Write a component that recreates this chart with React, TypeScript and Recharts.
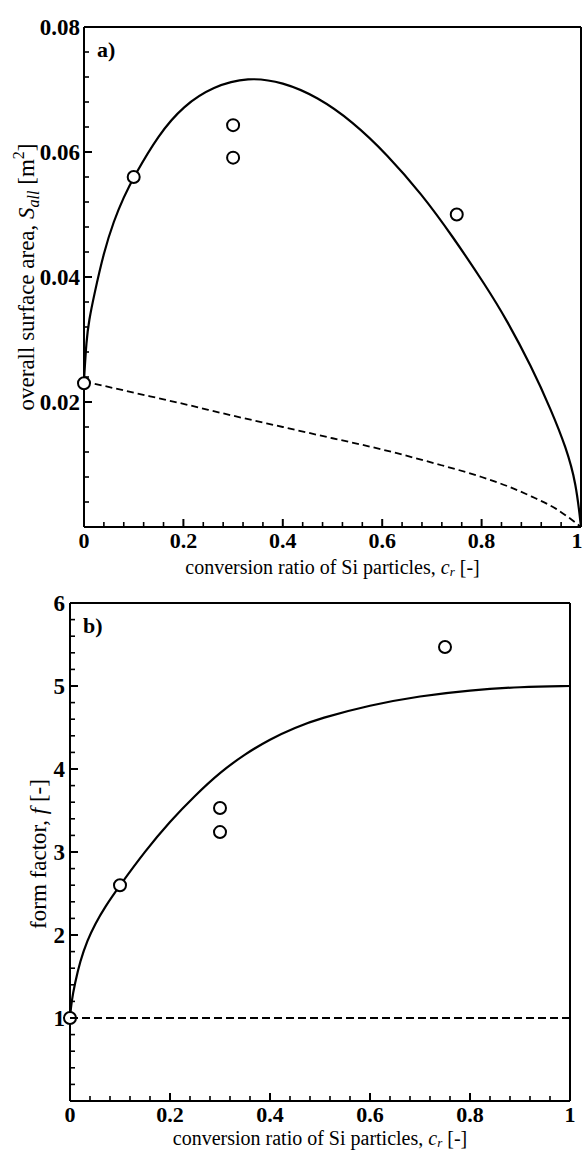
import { ComposedChart, Line, Scatter, XAxis, YAxis, Label } from "recharts";

// panel a) overall surface area
const sAllModelX = [0, 0.005, 0.01, 0.02, 0.04, 0.06, 0.08, 0.1, 0.15, 0.2, 0.26, 0.33, 0.4, 0.47, 0.54, 0.61, 0.68, 0.74, 0.81, 0.85, 0.9, 0.94, 0.97, 0.99, 1];
const sAllModelY = [0.0235, 0.03, 0.033, 0.037, 0.044, 0.049, 0.0528, 0.056, 0.0628, 0.0674, 0.0705, 0.072, 0.0712, 0.0688, 0.0649, 0.0596, 0.0532, 0.0467, 0.0384, 0.0332, 0.0257, 0.0187, 0.0127, 0.0071, 0];
const sAllBaseX = [0, 0.1, 0.2, 0.3, 0.4, 0.5, 0.6, 0.7, 0.8, 0.85, 0.9, 0.95, 1];
const sAllBaseY = [0.0233, 0.0215, 0.0197, 0.0178, 0.016, 0.0142, 0.0124, 0.0103, 0.008, 0.0066, 0.0049, 0.0029, 0];
const sAllExpX = [0, 0.1, 0.3, 0.3, 0.75];
const sAllExpY = [0.023, 0.056, 0.0643, 0.0591, 0.05];

// panel b) form factor
const fModelX = [0, 0.003, 0.01, 0.02, 0.035, 0.05, 0.07, 0.1, 0.15, 0.2, 0.25, 0.3, 0.35, 0.4, 0.45, 0.5, 0.6, 0.7, 0.8, 0.9, 1];
const fModelY = [1, 1.2, 1.42, 1.68, 1.94, 2.13, 2.34, 2.6, 3.01, 3.37, 3.68, 3.96, 4.18, 4.36, 4.5, 4.61, 4.77, 4.88, 4.95, 4.99, 5];
const fBaseX = [0, 1];
const fBaseY = [1, 1];
const fExpX = [0, 0.1, 0.3, 0.3, 0.75];
const fExpY = [1, 2.6, 3.53, 3.24, 5.47];

const xTicks = [0, 0.04, 0.08, 0.12, 0.16, 0.2, 0.24, 0.28, 0.32, 0.36, 0.4, 0.44, 0.48, 0.52, 0.56, 0.6, 0.64, 0.68, 0.72, 0.76, 0.8, 0.84, 0.88, 0.92, 0.96, 1];
const sAllTicks = [0, 0.004, 0.008, 0.012, 0.016, 0.02, 0.024, 0.028, 0.032, 0.036, 0.04, 0.044, 0.048, 0.052, 0.056, 0.06, 0.064, 0.068, 0.072, 0.076, 0.08];
const fTicks = [0, 0.2, 0.4, 0.6, 0.8, 1, 1.2, 1.4, 1.6, 1.8, 2, 2.2, 2.4, 2.6, 2.8, 3, 3.2, 3.4, 3.6, 3.8, 4, 4.2, 4.4, 4.6, 4.8, 5, 5.2, 5.4, 5.6, 5.8, 6];

const zip = (xs: number[], ys: number[]) => xs.map((x, i) => ({ x, y: ys[i] }));

const font = '"Liberation Serif", "Times New Roman", serif';
const near = (v: number) => Math.abs(v - Math.round(v)) < 1e-6;

const isMajorX = (v: number) => near(v * 5);
const fmtX = (v: number) => (v === 0 ? "0" : v === 1 ? "1" : v.toFixed(1));

const tickText = { fontFamily: font, fontWeight: 700, fontSize: 22, fill: "#000" };
const titleText = { fontFamily: font, fontSize: 20, fill: "#000" };
const yTitleText = { fontFamily: font, fontSize: 23, fill: "#000" };

function xTick(side: "bottom" | "top") {
  return (props: any) => {
    const { x, y, payload } = props;
    const v = payload.value as number;
    const major = isMajorX(v);
    const len = major ? 8 : 5;
    const dir = side === "bottom" ? -1 : 1;
    return (
      <g>
        <line x1={x} x2={x} y1={y} y2={y + dir * len} stroke="#000" strokeWidth={major ? 2 : 1.6} />
        {side === "bottom" && major && (
          <text x={Math.min(x, 577)} y={y + 21} textAnchor="middle" {...tickText}>
            {fmtX(v)}
          </text>
        )}
      </g>
    );
  };
}

function yTick(side: "left" | "right", isMajor: (v: number) => boolean, fmt: (v: number) => string, gap: number) {
  return (props: any) => {
    const { x, y, payload } = props;
    const v = payload.value as number;
    const major = isMajor(v);
    const len = major ? 8 : 5;
    const dir = side === "left" ? 1 : -1;
    return (
      <g>
        <line x1={x} x2={x + dir * len} y1={y} y2={y} stroke="#000" strokeWidth={major ? 2 : 1.6} />
        {side === "left" && major && v !== 0 && (
          <text x={x - gap} y={y} textAnchor="end" dominantBaseline="central" {...tickText} fontSize={23}>
            {fmt(v)}
          </text>
        )}
      </g>
    );
  };
}

const circleShape = (p: any) => <circle cx={p.cx} cy={p.cy} r={6} fill="#fff" stroke="#000" strokeWidth={2} />;

const xTitle = (offset: number) => (props: any) => {
  const vb = props.viewBox;
  return (
    <text x={vb.x + vb.width / 2} y={vb.y + offset} textAnchor="middle" {...titleText}>
      conversion ratio of Si particles, <tspan fontStyle="italic">c</tspan>
      <tspan fontStyle="italic" fontSize={13} dy={2}>r</tspan>
      <tspan dy={-2}> [-]</tspan>
    </text>
  );
};

const panelLabel = (txt: string) => (props: any) => {
  const vb = props.viewBox;
  return (
    <text x={vb.x + 13} y={vb.y + vb.height + 30} {...titleText} fontSize={22} fontWeight={700}>
      {txt}
    </text>
  );
};

const sAllTitle = (props: any) => {
  const vb = props.viewBox;
  const cx = vb.x + vb.width - 50;
  const cy = vb.y + vb.height / 2;
  return (
    <text x={cx} y={cy} textAnchor="middle" transform={`rotate(-90, ${cx}, ${cy})`} {...yTitleText}>
      overall surface area, <tspan fontStyle="italic">S</tspan>
      <tspan fontStyle="italic" fontSize={16} dy={5}>all</tspan>
      <tspan dy={-5}> [m</tspan>
      <tspan fontSize={16} dy={-10}>2</tspan>
      <tspan dy={10}>]</tspan>
    </text>
  );
};

const fTitle = (props: any) => {
  const vb = props.viewBox;
  const cx = vb.x + vb.width - 24;
  const cy = vb.y + vb.height / 2 + 2;
  return (
    <text x={cx} y={cy} textAnchor="middle" transform={`rotate(-90, ${cx}, ${cy})`} {...yTitleText}>
      form factor, <tspan fontStyle="italic">f</tspan> [-]
    </text>
  );
};

const axisLine = { stroke: "#000", strokeWidth: 2 };

export default function App() {
  return (
    <div style={{ position: "absolute", left: 0, top: 0, width: 584, height: 1150, background: "#fff" }}>
      <div style={{ position: "absolute", left: 0, top: 0 }}>
        <ComposedChart width={584} height={600} margin={{ top: 26, right: 2, bottom: 72, left: 83 }}>
          <XAxis dataKey="x" type="number" domain={[0, 1]} ticks={xTicks} interval={0} height={1} tickSize={0} tickMargin={0}
            axisLine={axisLine} tickLine={false} tick={xTick("bottom")} label={<Label content={xTitle(47)} />} />
          <XAxis xAxisId="top" orientation="top" dataKey="x" type="number" domain={[0, 1]} ticks={xTicks} interval={0} height={1}
            tickSize={0} tickMargin={0} axisLine={axisLine} tickLine={false} tick={xTick("top")} label={<Label content={panelLabel("a)")} />} />
          <YAxis type="number" domain={[0, 0.08]} ticks={sAllTicks} interval={0} width={1} tickSize={0} tickMargin={0}
            axisLine={axisLine} tickLine={false} tick={yTick("left", (v) => near(v * 50), (v) => v.toFixed(2), 4)}
            label={<Label content={sAllTitle} />} />
          <YAxis yAxisId="right" orientation="right" type="number" domain={[0, 0.08]} ticks={sAllTicks} interval={0} width={1}
            tickSize={0} tickMargin={0} axisLine={axisLine} tickLine={false} tick={yTick("right", (v) => near(v * 50), (v) => v.toFixed(2), 4)} />
          <Line data={zip(sAllBaseX, sAllBaseY)} dataKey="y" type="monotone" stroke="#000" strokeWidth={1.8} strokeDasharray="7 4" dot={false} isAnimationActive={false} />
          <Line data={zip(sAllModelX, sAllModelY)} dataKey="y" type="basis" stroke="#000" strokeWidth={2.2} dot={false} isAnimationActive={false} />
          <Scatter data={zip(sAllExpX, sAllExpY)} dataKey="y" shape={circleShape} isAnimationActive={false} />
        </ComposedChart>
      </div>
      <div style={{ position: "absolute", left: 0, top: 580 }}>
        <ComposedChart width={584} height={570} margin={{ top: 22, right: 13, bottom: 48, left: 69 }}>
          <XAxis dataKey="x" type="number" domain={[0, 1]} ticks={xTicks} interval={0} height={1} tickSize={0} tickMargin={0}
            axisLine={axisLine} tickLine={false} tick={xTick("bottom")} label={<Label content={xTitle(44)} />} />
          <XAxis xAxisId="top" orientation="top" dataKey="x" type="number" domain={[0, 1]} ticks={xTicks} interval={0} height={1}
            tickSize={0} tickMargin={0} axisLine={axisLine} tickLine={false} tick={xTick("top")} label={<Label content={panelLabel("b)")} />} />
          <YAxis type="number" domain={[0, 6]} ticks={fTicks} interval={0} width={1} tickSize={0} tickMargin={0}
            axisLine={axisLine} tickLine={false} tick={yTick("left", (v) => near(v), (v) => String(v), 5)}
            label={<Label content={fTitle} />} />
          <YAxis yAxisId="right" orientation="right" type="number" domain={[0, 6]} ticks={fTicks} interval={0} width={1}
            tickSize={0} tickMargin={0} axisLine={axisLine} tickLine={false} tick={yTick("right", (v) => near(v), (v) => String(v), 5)} />
          <Line data={zip(fBaseX, fBaseY)} dataKey="y" type="linear" stroke="#000" strokeWidth={1.8} strokeDasharray="8 4" dot={false} isAnimationActive={false} />
          <Line data={zip(fModelX, fModelY)} dataKey="y" type="basis" stroke="#000" strokeWidth={2.2} dot={false} isAnimationActive={false} />
          <Scatter data={zip(fExpX, fExpY)} dataKey="y" shape={circleShape} isAnimationActive={false} />
        </ComposedChart>
      </div>
    </div>
  );
}
